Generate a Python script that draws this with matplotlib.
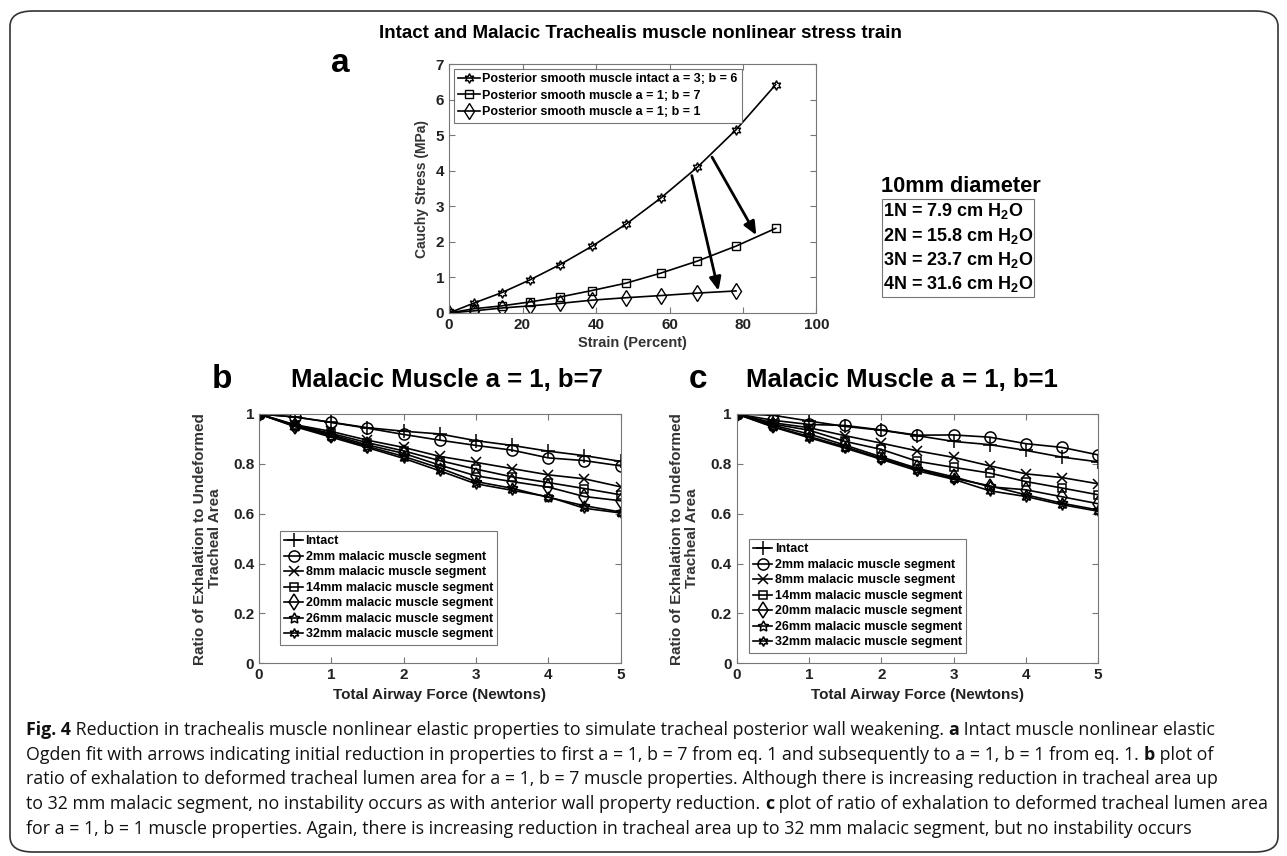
import matplotlib
matplotlib.use('Agg')
import matplotlib.pyplot as plt
from matplotlib.patches import FancyBboxPatch, Rectangle

plt.rcParams['font.family'] = ['Liberation Sans', 'DejaVu Sans']
plt.rcParams['mathtext.fontset'] = 'custom'
plt.rcParams['mathtext.bf'] = 'Liberation Sans:bold'
plt.rcParams['mathtext.rm'] = 'Liberation Sans'

# panel a: stress-strain
strain = [0, 6.8, 14.3, 22.0, 30.2, 38.8, 48.2, 57.6, 67.6, 78.1, 88.9]
stress_intact = [0, 0.28, 0.57, 0.93, 1.36, 1.87, 2.50, 3.23, 4.10, 5.15, 6.42]
stress_a1b7 = [0, 0.12, 0.20, 0.31, 0.45, 0.63, 0.84, 1.12, 1.46, 1.88, 2.38]
strain_a1b1 = [0, 6.8, 14.3, 22.0, 30.2, 38.8, 48.2, 57.6, 67.6, 78.1]
stress_a1b1 = [0, 0.06, 0.14, 0.20, 0.27, 0.36, 0.43, 0.49, 0.56, 0.62]

# panels b, c: area ratio vs force
force = [0, 0.5, 1, 1.5, 2, 2.5, 3, 3.5, 4, 4.5, 5]
labels = ['Intact', '2mm malacic muscle segment', '8mm malacic muscle segment',
          '14mm malacic muscle segment', '20mm malacic muscle segment',
          '26mm malacic muscle segment', '32mm malacic muscle segment']
b_intact = [1, 0.988, 0.967, 0.945, 0.931, 0.920, 0.893, 0.874, 0.851, 0.833, 0.810]
b_2mm = [1, 0.988, 0.966, 0.943, 0.918, 0.895, 0.874, 0.855, 0.824, 0.813, 0.792]
b_8mm = [1, 0.957, 0.930, 0.895, 0.866, 0.830, 0.806, 0.781, 0.756, 0.740, 0.708]
b_14mm = [1, 0.955, 0.922, 0.885, 0.852, 0.813, 0.779, 0.748, 0.725, 0.701, 0.676]
b_20mm = [1, 0.953, 0.917, 0.876, 0.842, 0.795, 0.752, 0.729, 0.707, 0.669, 0.652]
b_26mm = [1, 0.951, 0.912, 0.870, 0.830, 0.783, 0.729, 0.702, 0.666, 0.632, 0.607]
b_32mm = [1, 0.949, 0.907, 0.865, 0.822, 0.772, 0.720, 0.694, 0.668, 0.622, 0.603]

c_intact = [1, 0.995, 0.972, 0.950, 0.935, 0.913, 0.890, 0.877, 0.854, 0.827, 0.808]
c_2mm = [1, 0.975, 0.958, 0.954, 0.936, 0.915, 0.916, 0.907, 0.881, 0.866, 0.836]
c_8mm = [1, 0.965, 0.945, 0.913, 0.883, 0.852, 0.826, 0.792, 0.760, 0.745, 0.720]
c_14mm = [1, 0.960, 0.935, 0.890, 0.858, 0.810, 0.786, 0.763, 0.729, 0.703, 0.676]
c_20mm = [1, 0.955, 0.920, 0.875, 0.828, 0.782, 0.748, 0.708, 0.696, 0.668, 0.640]
c_26mm = [1, 0.950, 0.910, 0.868, 0.822, 0.778, 0.742, 0.712, 0.676, 0.642, 0.615]
c_32mm = [1, 0.948, 0.905, 0.863, 0.818, 0.772, 0.738, 0.692, 0.669, 0.636, 0.610]

pressures = ['1N = 7.9 cm H$_\\mathbf{2}$O', '2N = 15.8 cm H$_\\mathbf{2}$O',
             '3N = 23.7 cm H$_\\mathbf{2}$O', '4N = 31.6 cm H$_\\mathbf{2}$O']

W, H = 1287, 856
fig = plt.figure(figsize=(W / 100, H / 100), dpi=100)

def box(l, t, r, b):
    return [l / W, 1 - b / H, (r - l) / W, (b - t) / H]

def ftext(x, y, s, **kw):
    return fig.text(x / W, 1 - y / H, s, **kw)

# rounded frame
fig.patches.append(FancyBboxPatch((10 / W, 4 / H), 1268 / W, 841 / H,
                                  boxstyle='round,pad=0,rounding_size=0.018',
                                  transform=fig.transFigure, fill=False,
                                  edgecolor='#333333', linewidth=1.2))

def style_axes(ax):
    for sp in ax.spines.values():
        sp.set_color('#777777')
        sp.set_linewidth(0.8)
    ax.tick_params(direction='in', top=True, right=True, length=4,
                   color='#777777', width=0.8)

hexagram = (6, 1, 0)
pentagram = (5, 1, 0)

# ---- panel a
ax = fig.add_axes(box(449, 64, 816.5, 313))
ax.plot(strain, stress_intact, '-', color='k', marker=hexagram, mfc='none',
        ms=7, lw=1.2, label='Posterior smooth muscle intact a = 3; b = 6')
ax.plot(strain, stress_a1b7, '-', color='k', marker='s', mfc='none',
        ms=6, lw=1.2, label='Posterior smooth muscle a = 1; b = 7')
ax.plot(strain_a1b1, stress_a1b1, '-', color='k', marker='d', mfc='none',
        ms=8, lw=1.2, label='Posterior smooth muscle a = 1; b = 1')
ax.set_xlim(0, 100)
ax.set_ylim(0, 7)
ax.set_xticks([0, 20, 40, 60, 80, 100])
ax.set_yticks(range(8))
style_axes(ax)
for t in ax.get_xticklabels() + ax.get_yticklabels():
    t.set_fontweight('bold')
    t.set_fontsize(11)
    t.set_color('#222222')
ax.set_xlabel('Strain (Percent)', fontsize=10.5, fontweight='bold', color='#333333', labelpad=3)
ax.set_ylabel('Cauchy Stress (MPa)', fontsize=10, fontweight='bold', color='#333333', labelpad=5)
leg = ax.legend(loc='upper left', prop={'weight': 'bold', 'size': 9}, handlelength=1.7,
                handletextpad=0.2, borderpad=0.35, labelspacing=0.35, fancybox=False,
                edgecolor='#555555', borderaxespad=0.4)
leg.get_frame().set_linewidth(0.8)
ax.annotate('', xy=(84.0, 2.12), xytext=(71.2, 4.45),
            arrowprops=dict(arrowstyle='-|>,head_length=0.8,head_width=0.35', color='k', lw=2))
ax.annotate('', xy=(73.5, 0.55), xytext=(65.9, 3.94),
            arrowprops=dict(arrowstyle='-|>,head_length=0.8,head_width=0.35', color='k', lw=2))

ftext(640, 33, 'Intact and Malacic Trachealis muscle nonlinear stress train',
      ha='center', va='center', fontsize=13.5, fontweight='heavy')
ftext(340, 64, 'a', ha='center', va='center', fontsize=24, fontweight='bold')

# diameter box
ftext(961, 187, '10mm diameter', ha='center', va='center', fontsize=15.7, fontweight='bold')
fig.patches.append(Rectangle((881.5 / W, 1 - 297 / H), 152 / W, 98 / H, transform=fig.transFigure,
                             fill=False, edgecolor='#777777', linewidth=0.8))
for i, s in enumerate(pressures):
    ftext(883, 211 + i * 24.5, s, ha='left', va='center', fontsize=13, fontweight='bold')

# ---- panels b, c
series_b = [b_intact, b_2mm, b_8mm, b_14mm, b_20mm, b_26mm, b_32mm]
series_c = [c_intact, c_2mm, c_8mm, c_14mm, c_20mm, c_26mm, c_32mm]
markers = ['+', 'o', 'x', 's', 'd', pentagram, hexagram]
msizes = [10, 8, 7, 6, 8, 8, 7]

def ratio_panel(left, series, title, title_x, letter, letter_x, legbox):
    ax = fig.add_axes(box(left, 414, left + 361.5, 663.3))
    for ys, lab, m, msz in zip(series, labels, markers, msizes):
        ax.plot(force, ys, '-', color='k', marker=m, mfc='none', ms=msz, lw=1.2,
                mew=1.1, label=lab)
    ax.set_xlim(0, 5)
    ax.set_ylim(0, 1)
    ax.set_xticks(range(6))
    ax.set_yticks([0, 0.2, 0.4, 0.6, 0.8, 1])
    ax.set_yticklabels(['0', '0.2', '0.4', '0.6', '0.8', '1'])
    style_axes(ax)
    for t in ax.get_yticklabels() + ax.get_xticklabels():
        t.set_fontweight('bold')
        t.set_fontsize(11)
        t.set_color('#222222')
    ax.set_xlabel('Total Airway Force (Newtons)', fontsize=11,
                  fontweight='bold', color='#222222', labelpad=4)
    ax.set_ylabel('Ratio of Exhalation to Undeformed\nTracheal Area', fontsize=11,
                  fontweight='bold', color='#333333', labelpad=8, linespacing=1.1)
    lx, ly = legbox
    leg = ax.legend(loc='upper left', bbox_to_anchor=((lx - left) / 361.5, (663.3 - ly) / 249.3),
                    prop={'weight': 'bold', 'size': 9}, handlelength=1.5,
                    handletextpad=0.2, borderpad=0.35, labelspacing=0.28, fancybox=False,
                    edgecolor='#555555', borderaxespad=0)
    leg.get_frame().set_linewidth(0.8)
    ftext(title_x, 380, title, ha='center', va='center', fontsize=18.5, fontweight='heavy')
    ftext(letter_x, 380, letter, ha='center', va='center', fontsize=24, fontweight='bold')
    return ax

ratio_panel(259, series_b, 'Malacic Muscle a = 1, b=7', 447, 'b', 222, (280, 531))
ratio_panel(736.7, series_c, 'Malacic Muscle a = 1, b=1', 902, 'c', 698, (749, 539))

# ---- caption with inline bold
caption = [
    [('Fig. 4', True), (' Reduction in trachealis muscle nonlinear elastic properties to simulate tracheal posterior wall weakening. ', False), ('a', True), (' Intact muscle nonlinear elastic', False)],
    [('Ogden fit with arrows indicating initial reduction in properties to first a = 1, b = 7 from eq. 1 and subsequently to a = 1, b = 1 from eq. 1. ', False), ('b', True), (' plot of', False)],
    [('ratio of exhalation to deformed tracheal lumen area for a = 1, b = 7 muscle properties. Although there is increasing reduction in tracheal area up', False)],
    [('to 32 mm malacic segment, no instability occurs as with anterior wall property reduction. ', False), ('c', True), (' plot of ratio of exhalation to deformed tracheal lumen area', False)],
    [('for a = 1, b = 1 muscle properties. Again, there is increasing reduction in tracheal area up to 32 mm malacic segment, but no instability occurs', False)],
]
cap_y = [730, 754.5, 779, 804, 829]
# right ends of the full lines, the last line is short
cap_end = [1252, 1265, 1255, 1276]
cap_font = ['Open Sans', 'DejaVu Sans']

renderer = fig.canvas.get_renderer()

def draw_line(parts, y, size):
    x = 26
    objs = []
    for s, bold in parts:
        t = ftext(x, y, s, ha='left', va='center', fontsize=size, family=cap_font,
                  fontweight='bold' if bold else 'normal', color='#111111')
        x += t.get_window_extent(renderer).width
        objs.append(t)
    return x, objs

# pick one size so the lines span about the same width as in the figure
size = 20
for parts, target in zip(caption, cap_end):
    end, objs = draw_line(parts, 0, 14)
    for o in objs:
        o.remove()
    size = min(size, 14 * (target - 26) / (end - 26))
for parts, y in zip(caption, cap_y):
    draw_line(parts, y, size)

fig.savefig('out.png', dpi=100)
